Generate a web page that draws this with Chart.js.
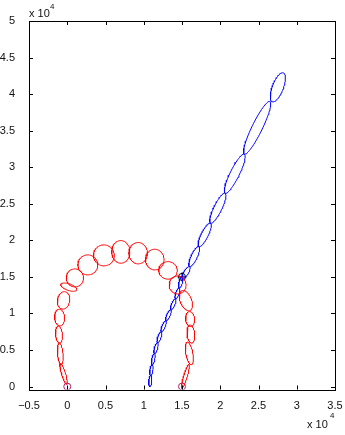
<!DOCTYPE html>
<html>
<head>
<meta charset="utf-8">
<script src="https://cdn.jsdelivr.net/npm/chart.js@4"></script>
<style>
  html, body { margin: 0; padding: 0; background: #fff; }
  #wrap { width: 345px; height: 435px; }
</style>
</head>
<body>
<div id="wrap"><canvas id="grafico"></canvas></div>
<script>
// eixos
const xTicks = [-5000, 0, 5000, 10000, 15000, 20000, 25000, 30000, 35000];
const xTickLabels = ['\u22120.5', '0', '0.5', '1', '1.5', '2', '2.5', '3', '3.5'];
const yTicks = [0, 5000, 10000, 15000, 20000, 25000, 30000, 35000, 40000, 45000, 50000];
const yTickLabels = ['0', '0.5', '1', '1.5', '2', '2.5', '3', '3.5', '4', '4.5', '5'];

// elipses vermelhas: centro, semi-eixo maior, semi-eixo menor, angulo (graus)
const redCx = [-480, -910, -1080, -1000, -480, 200, 1000, 2690, 4790, 7000, 9270, 11440, 13170, 14430, 15510, 16060, 16160, 15960, 15450];
const redCy = [1740, 4470, 7110, 9440, 11790, 13600, 14860, 16640, 17940, 18420, 18240, 17370, 15890, 13900, 11750, 9230, 7180, 4540, 1400];
const redA = [1510, 1460, 1160, 1140, 1200, 1100, 1230, 1370, 1435, 1550, 1460, 1415, 1200, 1230, 1450, 1025, 1250, 1570, 1700];
const redB = [260, 360, 450, 650, 800, 450, 1125, 1300, 1365, 1190, 1215, 1215, 1215, 1105, 750, 585, 490, 455, 230];
const redAng = [106, 95, 95, 93, 80, -20, 90, 90, 90, 90, 90, 90, 90, 90, 110, 95, 95, 100, 74];

// elipses azuis
const blueCx = [10850, 11000, 11250, 11600, 12050, 12600, 13225, 13850, 14400, 14825, 15555, 16595, 17965, 19685, 21895, 24820, 27530];
const blueCy = [750, 2250, 3750, 5250, 6750, 8250, 9750, 11250, 12750, 14250, 15615, 17775, 20740, 24395, 29115, 35395, 40930];
const blueA = [752, 757, 765, 776, 790, 808, 817, 808, 790, 770, 905, 1495, 1775, 2265, 2945, 3965, 2100];
const blueB = [200, 200, 200, 210, 210, 210, 220, 220, 220, 230, 300, 400, 450, 520, 600, 680, 720];
const blueAng = [86.2, 82.4, 78.7, 75.1, 71.6, 68.2, 66.6, 68.2, 71.6, 76.9, 61, 66, 64.4, 65, 64.8, 65.1, 70];

// marcadores
const circX = [0, 15000];
const circY = [0, 0];
const crossX = [15000];
const crossY = [15000];

function contorno(cx, cy, a, b, ang) {
  const t = ang * Math.PI / 180;
  const pts = [];
  for (let i = 0; i <= 72; i++) {
    const f = i / 72 * 2 * Math.PI;
    const u = a * Math.cos(f), v = b * Math.sin(f);
    pts.push({ x: cx + u * Math.cos(t) - v * Math.sin(t), y: cy + u * Math.sin(t) + v * Math.cos(t) });
  }
  return pts;
}

const datasets = [];
redCx.forEach((cx, i) => {
  datasets.push({
    data: contorno(cx, redCy[i], redA[i], redB[i], redAng[i]),
    showLine: true, borderColor: '#ff0000', borderWidth: 1, pointRadius: 0, tension: 0
  });
});
blueCx.forEach((cx, i) => {
  datasets.push({
    data: contorno(cx, blueCy[i], blueA[i], blueB[i], blueAng[i]),
    showLine: true, borderColor: '#0000ff', borderWidth: 1, pointRadius: 0, tension: 0
  });
});
datasets.push({
  data: circX.map((x, i) => ({ x, y: circY[i] })),
  pointStyle: 'circle', pointRadius: 3.5, borderColor: '#b01e6e', backgroundColor: 'rgba(0,0,0,0)', borderWidth: 1
});
datasets.push({
  data: crossX.map((x, i) => ({ x, y: crossY[i] })),
  pointStyle: 'circle', pointRadius: 3.5, borderColor: '#000', backgroundColor: 'rgba(0,0,0,0)', borderWidth: 1
});
datasets.push({
  data: crossX.map((x, i) => ({ x, y: crossY[i] })),
  pointStyle: 'cross', pointRadius: 4.5, borderColor: '#000', borderWidth: 1
});

const FONTE = '11px "Liberation Sans", Arial, sans-serif';

// moldura com ticks para dentro e o "x 10^4"
const moldura = {
  id: 'moldura',
  afterDraw(chart) {
    const { ctx, chartArea: a, scales } = chart;
    ctx.save();
    ctx.strokeStyle = '#000';
    ctx.lineWidth = 1;
    ctx.strokeRect(Math.round(a.left) + 0.5, Math.round(a.top) + 0.5, Math.round(a.right - a.left), Math.round(a.bottom - a.top));
    ctx.beginPath();
    xTicks.forEach(v => {
      const x = Math.round(scales.x.getPixelForValue(v)) + 0.5;
      ctx.moveTo(x, a.bottom); ctx.lineTo(x, a.bottom - 4);
      ctx.moveTo(x, a.top); ctx.lineTo(x, a.top + 4);
    });
    yTicks.forEach(v => {
      const y = Math.round(scales.y.getPixelForValue(v)) + 0.5;
      ctx.moveTo(a.left, y); ctx.lineTo(a.left + 4, y);
      ctx.moveTo(a.right, y); ctx.lineTo(a.right - 4, y);
    });
    ctx.stroke();

    ctx.fillStyle = '#111';
    ctx.textBaseline = 'alphabetic';
    ctx.textAlign = 'left';
    ctx.font = FONTE;
    ctx.fillText('x 10', a.left, a.top - 4);
    ctx.fillText('x 10', 307, 428);
    ctx.font = '8px "Liberation Sans", Arial, sans-serif';
    ctx.fillText('4', a.left + 21, a.top - 12);
    ctx.fillText('4', 330, 418);
    ctx.restore();
  }
};

new Chart(document.getElementById('grafico'), {
  type: 'scatter',
  data: { datasets },
  plugins: [moldura],
  options: {
    responsive: true,
    maintainAspectRatio: false,
    animation: false,
    layout: { padding: { top: 21, right: 10, left: 0, bottom: 0 } },
    plugins: { legend: { display: false }, tooltip: { enabled: false } },
    scales: {
      x: {
        min: -5000, max: 35000,
        afterBuildTicks: s => { s.ticks = xTicks.map(v => ({ value: v })); },
        afterFit: s => { s.height = 45.5; },
        ticks: {
          callback: (v) => xTickLabels[xTicks.indexOf(v)],
          font: { family: '"Liberation Sans", Arial, sans-serif', size: 11 },
          color: '#111', maxRotation: 0, autoSkip: false, padding: 2
        },
        grid: { display: false },
        border: { display: false }
      },
      y: {
        min: -400, max: 50000,
        afterBuildTicks: s => { s.ticks = yTicks.map(v => ({ value: v })); },
        afterFit: s => { s.width = 29; },
        ticks: {
          callback: (v) => yTickLabels[yTicks.indexOf(v)],
          font: { family: '"Liberation Sans", Arial, sans-serif', size: 11 },
          color: '#111', autoSkip: false, padding: 6
        },
        grid: { display: false },
        border: { display: false }
      }
    }
  }
});
</script>
</body>
</html>
